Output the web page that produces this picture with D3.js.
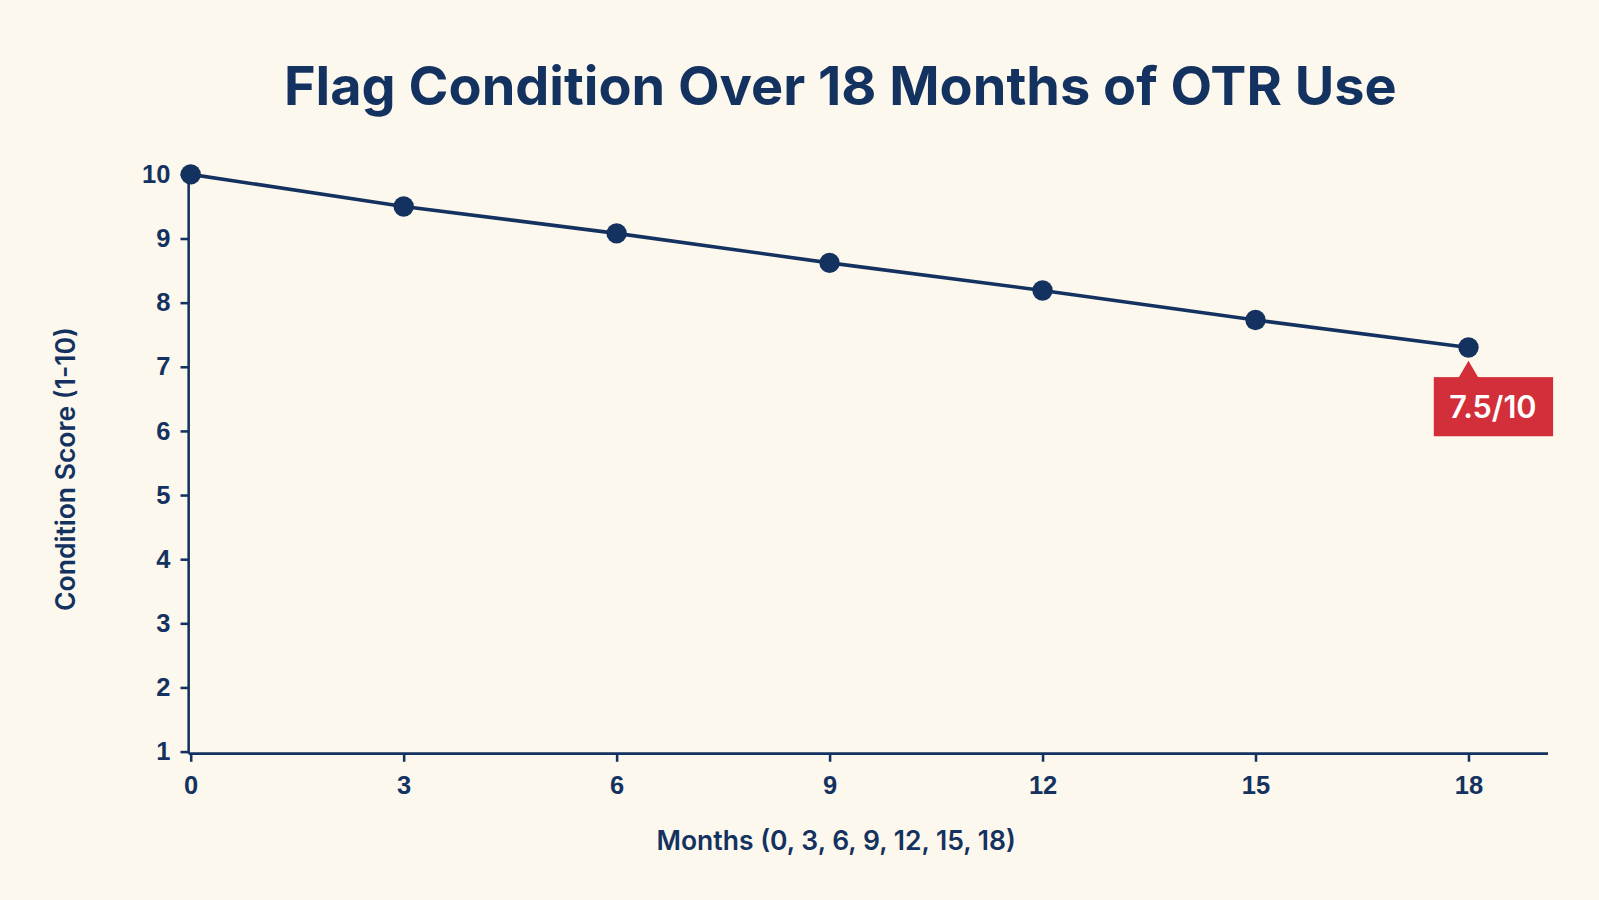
<!DOCTYPE html>
<html><head><meta charset="utf-8">
<script src="https://cdn.jsdelivr.net/npm/d3@7"></script>
<style>body{margin:0;background:#fcf8ee;}svg{display:block;font-family:Inter,"Open Sans",sans-serif;}</style>
</head><body><svg id="c" width="1599" height="900"></svg>
<script>
const months=[0,3,6,9,12,15,18];
const scores=[10,9.5,9.08,8.62,8.19,7.73,7.3];
const yTicks=[1,2,3,4,5,6,7,8,9,10];
const labelText="7.5/10";
const navy="#14325f", red="#d32f3a";
const root=d3.select("#c");
root.append("rect").attr("width",1599).attr("height",900).attr("fill","#fcf8ee");
const svg=root.append("g").attr("transform","scale("+(1599/1568)+")");
const x=d3.scaleLinear().domain([0,18]).range([187,1440]);
const y=d3.scaleLinear().domain([1,10]).range([737,171]);
svg.append("text").attr("x",824).attr("y",103).attr("text-anchor","middle").attr("font-size",53).attr("font-weight",700).attr("fill",navy).text("Flag Condition Over 18 Months of OTR Use");
const xa=svg.append("g").attr("transform","translate(0,739)").call(d3.axisBottom(x).tickValues(months).tickSize(8).tickPadding(14).tickSizeOuter(0));
xa.select(".domain").attr("d","M185,0H1518");
const ya=svg.append("g").attr("transform","translate(185,0)").call(d3.axisLeft(y).tickValues(yTicks).tickSize(8).tickPadding(10).tickSizeOuter(0));
ya.select(".domain").attr("d","M0,164V739");
svg.selectAll(".domain,.tick line").attr("stroke",navy).attr("stroke-width",2.5);
svg.selectAll(".tick text").attr("fill",navy).attr("font-size",25).attr("font-weight",600);
svg.append("text").attr("x",820).attr("y",834).attr("text-anchor","middle").attr("font-size",26).attr("font-weight",600).attr("fill",navy).text("Months (0, 3, 6, 9, 12, 15, 18)");
svg.append("text").attr("transform","translate(74,460) rotate(-90)").attr("text-anchor","middle").attr("font-size",26).attr("font-weight",600).attr("fill",navy).text("Condition Score (1-10)");
const pts=months.map((m,i)=>[m,scores[i]]);
svg.append("path").datum(pts).attr("fill","none").attr("stroke",navy).attr("stroke-width",3.5).attr("d",d3.line().x(d=>x(d[0])).y(d=>y(d[1])));
svg.selectAll("circle.p").data(pts).join("circle").attr("cx",d=>x(d[0])).attr("cy",d=>y(d[1])).attr("r",10).attr("fill",navy);
const lx=x(18), ly=y(scores[6]);
const g=svg.append("g");
g.append("path").attr("d",`M${lx-10},${ly+30}L${lx},${ly+13}L${lx+10},${ly+30}Z`).attr("fill",red);
g.append("rect").attr("x",lx-34).attr("y",ly+29).attr("width",117).attr("height",58).attr("fill",red);
g.append("text").attr("x",lx+24).attr("y",ly+69).attr("text-anchor","middle").attr("font-size",30).attr("font-weight",600).attr("fill","#fff").text(labelText);
</script></body></html>
